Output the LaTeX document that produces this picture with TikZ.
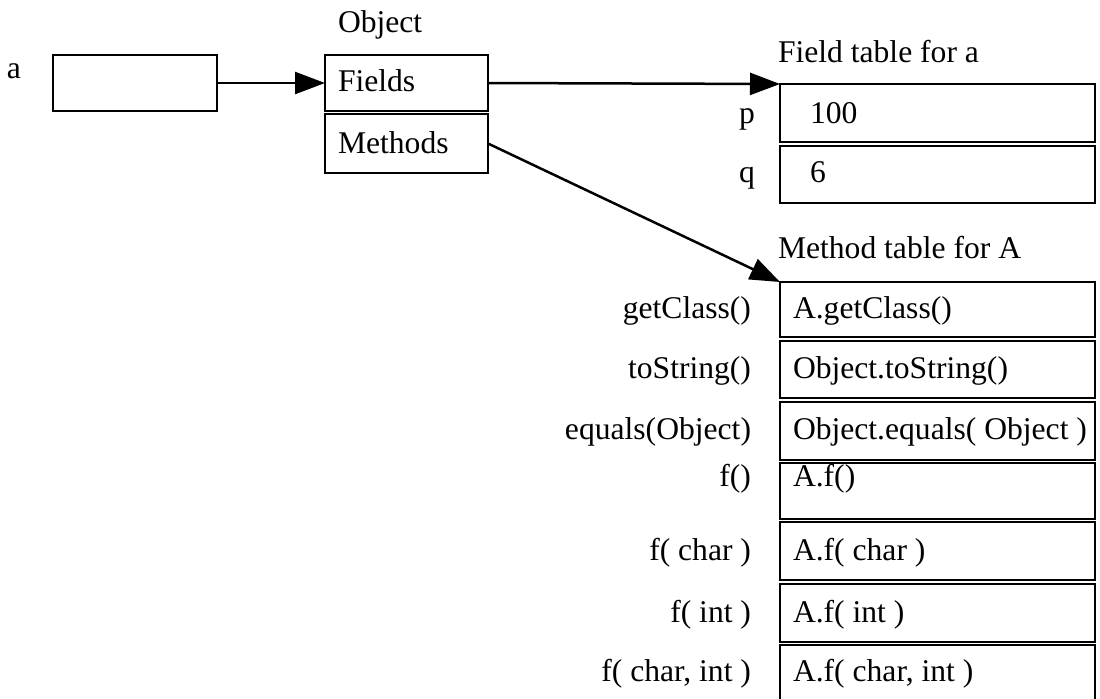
\documentclass[tikz,border=0pt]{standalone}
\usepackage{fontspec}
\setmainfont{Liberation Serif}
\usetikzlibrary{arrows.meta}
\begin{document}
\begin{tikzpicture}[x=0.5pt,y=-0.5pt,
  every node/.style={font=\fontsize{15.8pt}{18pt}\selectfont, inner sep=0pt, outer sep=0pt},
  cell/.style={draw, line width=1.25pt, anchor=north west, minimum width=157.5pt},
  objcell/.style={draw, line width=1.25pt, anchor=north west, minimum width=81.5pt},
  txt/.style={anchor=base west},
  lbl/.style={anchor=base east},
  conn/.style={line width=1.25pt, -{Triangle[length=15pt,width=11pt]}}
]
\useasboundingbox (0,0) rectangle (1100,698);
\clip (0,0) rectangle (1100,698);

% reference variable
\node[lbl] (alabel) at (21,78) {a};
\node[draw, line width=1.25pt, anchor=north west, minimum width=82pt, minimum height=28pt] (aref) at (53,55) {};

% object
\node[txt] (objtitle) at (338,32) {Object};
\node[objcell, minimum height=28pt] (fields) at (325,55) {};
\node[txt] (fieldstxt) at (338,91) {Fields};
\node[objcell, minimum height=29.5pt] (methods) at (325,114) {};
\node[txt] (methodstxt) at (338,153) {Methods};

% field table
\node[txt] (ftitle) at (778,62) {Field table for a};
\node[cell, minimum height=29pt] (p) at (780,84) {};
\node[txt] (ptxt) at (810,123) {100};
\node[lbl] (plbl) at (755,123) {p};
\node[cell, minimum height=28.5pt] (q) at (780,146) {};
\node[txt] (qtxt) at (810,182) {6};
\node[lbl] (qlbl) at (755,182) {q};

% method table
\node[txt] (mtitle) at (778,258) {Method table for A};
\node[cell, minimum height=27.5pt] (m1) at (780,282) {};
\node[cell, minimum height=28.5pt] (m2) at (780,341) {};
\node[cell, minimum height=29pt] (m3) at (780,402) {};
\node[cell, minimum height=28pt] (m4) at (780,463) {};
\node[cell, minimum height=29pt] (m5) at (780,522) {};
\node[cell, minimum height=29pt] (m6) at (780,584) {};
\node[cell, minimum height=30pt] (m7) at (780,645) {};

\node[txt] (m1t) at (793,318) {A.getClass()};
\node[txt] (m2t) at (793,378) {Object.toString()};
\node[txt] (m3t) at (793,439) {Object.equals( Object )};
\node[txt] (m4t) at (793,486) {A.f()};
\node[txt] (m5t) at (793,560) {A.f( char )};
\node[txt] (m6t) at (793,622) {A.f( int )};
\node[txt] (m7t) at (793,681) {A.f( char, int )};

\node[lbl] (m1l) at (751,318) {getClass()};
\node[lbl] (m2l) at (751,378) {toString()};
\node[lbl] (m3l) at (751,439) {equals(Object)};
\node[lbl] (m4l) at (751,486) {f()};
\node[lbl] (m5l) at (751,560) {f( char )};
\node[lbl] (m6l) at (751,622) {f( int )};
\node[lbl] (m7l) at (751,681) {f( char, int )};

% connectors
\draw[conn] (aref.east) -- (fields.west);
\draw[conn] (fields.east) -- (p.north west);
\draw[conn] (methods.east) -- (m1.north west);
\end{tikzpicture}
\end{document}
